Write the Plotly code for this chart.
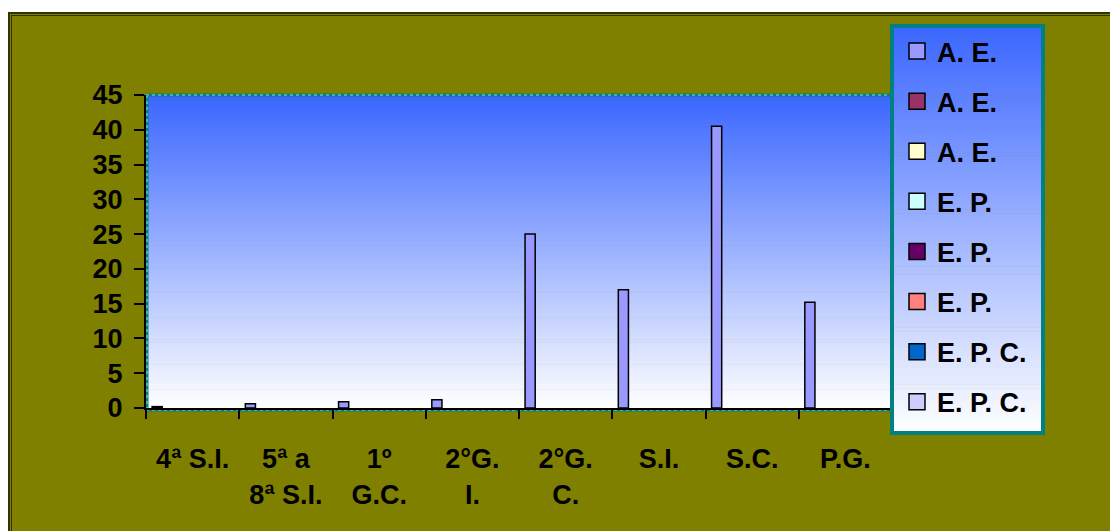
import plotly.graph_objects as go

categories = ["4ª S.I.", "5ª a<br>8ª S.I.", "1º<br>G.C.", "2°G.<br>I.", "2°G.<br>C.", "S.I.", "S.C.", "P.G."]
series_names = ["A. E.", "A. E.", "A. E.", "E. P.", "E. P.", "E. P.", "E. P. C.", "E. P. C."]
series_colors = ["#9999FF", "#993366", "#FFFFCC", "#CCFFFF", "#660066", "#FF8080", "#0066CC", "#CCCCFF"]
values_s1 = [0.2, 0.6, 0.9, 1.2, 25.0, 17.0, 40.5, 15.2]
values_empty = [None] * 8
y_ticks = [0, 5, 10, 15, 20, 25, 30, 35, 40, 45]

series_values = [values_s1] + [values_empty] * 7

# pixel geometry of the plot area
L, R, T, B = 146, 892, 95, 408
W, H = R - L, B - T

def px(x):
    return (x - L) / W

def py(y):
    return (B - y) / H

FONT = "Liberation Sans, Arial, sans-serif"

fig = go.Figure()
for i, (name, col, vals) in enumerate(zip(series_names, series_colors, series_values)):
    fig.add_trace(go.Bar(
        x=categories, y=vals, name=name, legendgroup=str(i), showlegend=False,
        marker=dict(color=col, line=dict(color="black", width=1.5)),
    ))
# legend entries with larger square swatches
for i, (name, col) in enumerate(zip(series_names, series_colors)):
    fig.add_trace(go.Scatter(
        x=[None], y=[None], mode="markers", name=name, legendgroup=str(i), showlegend=True,
        marker=dict(symbol="square", size=17, color=col, line=dict(color="black", width=1.5)),
        hoverinfo="skip",
    ))

shapes = []
# white page outside chart frame
shapes.append(dict(type="rect", xref="paper", yref="paper", x0=px(0), x1=px(1110), y0=py(0), y1=py(12),
                   fillcolor="white", line=dict(width=0), layer="below"))
shapes.append(dict(type="rect", xref="paper", yref="paper", x0=px(0), x1=px(8), y0=py(0), y1=py(531),
                   fillcolor="white", line=dict(width=0), layer="below"))
# double dark frame lines
for (x0, y0, x1, y1, w) in [(8, 13, 1110, 13, 2), (11, 15.5, 1110, 15.5, 1),
                            (9, 12, 9, 531, 2), (11.5, 15, 11.5, 531, 1)]:
    shapes.append(dict(type="line", xref="paper", yref="paper", x0=px(x0), x1=px(x1), y0=py(y0), y1=py(y1),
                       line=dict(color="#333300", width=w), layer="below"))

def grad(t):
    c0 = (58, 102, 255)
    c1 = (255, 255, 255)
    return "rgb(%d,%d,%d)" % tuple(round(a + (b - a) * t) for a, b in zip(c0, c1))

# plot-area gradient
n = 100
for k in range(n):
    y0 = T + H * k / n
    y1 = T + H * (k + 1) / n + 0.6
    shapes.append(dict(type="rect", xref="paper", yref="paper", x0=0, x1=1, y0=py(y1), y1=py(y0),
                       fillcolor=grad((k + 0.5) / n), line=dict(width=0), layer="below"))

# legend box gradient
LL, LR, LT, LB = 892, 1043, 26, 433
n2 = 100
for k in range(n2):
    y0 = LT + (LB - LT) * k / n2
    y1 = LT + (LB - LT) * (k + 1) / n2 + 0.6
    shapes.append(dict(type="rect", xref="paper", yref="paper", x0=px(LL), x1=px(LR), y0=py(y1), y1=py(y0),
                       fillcolor=grad((k + 0.5) / n2), line=dict(width=0), layer="below"))
shapes.append(dict(type="rect", xref="paper", yref="paper", x0=px(LL), x1=px(LR), y0=py(LB), y1=py(LT),
                   fillcolor="rgba(0,0,0,0)", line=dict(color="#008080", width=4), layer="above"))

# dotted teal borders of plot area
for (x0, y0, x1, y1) in [(L, T, R, T), (L + 1, T, L + 1, B), (L, B + 2, R, B + 2)]:
    shapes.append(dict(type="line", xref="paper", yref="paper", x0=px(x0), x1=px(x1), y0=py(y0), y1=py(y1),
                       line=dict(color="#008080", width=3), layer="below"))
    shapes.append(dict(type="line", xref="paper", yref="paper", x0=px(x0), x1=px(x1), y0=py(y0), y1=py(y1),
                       line=dict(color="#9fd8d8", width=1, dash="dot"), layer="below"))

fig.update_layout(
    width=1110, height=531,
    margin=dict(l=L, r=1110 - R, t=T, b=531 - B, pad=0),
    paper_bgcolor="#808000",
    plot_bgcolor="rgba(0,0,0,0)",
    barmode="group", bargap=0.13, bargroupgap=0,
    font=dict(family=FONT, size=27, color="black", weight="bold"),
    showlegend=True,
    legend=dict(x=px(897), y=py(27), xanchor="left", yanchor="top",
                bgcolor="rgba(0,0,0,0)", borderwidth=0, maxheight=500,
                traceorder="grouped", tracegroupgap=12,
                font=dict(family=FONT, size=27, color="black", weight="bold")),
    shapes=shapes,
)
fig.update_xaxes(
    type="category", categoryorder="array", categoryarray=categories,
    showline=True, linecolor="black", linewidth=2,
    ticks="outside", tickson="boundaries", ticklen=9, tickwidth=2, tickcolor="black",
    ticklabelstandoff=26, showgrid=False, zeroline=False,
    tickfont=dict(family=FONT, size=27, color="black", weight="bold"),
)
fig.update_yaxes(
    range=[0, 45], tickvals=y_ticks, showline=True, linecolor="black", linewidth=2,
    ticks="outside", ticklen=10, tickwidth=2, tickcolor="black",
    showgrid=False, zeroline=False, ticklabelstandoff=6,
    tickfont=dict(family=FONT, size=27, color="black", weight="bold"),
)

fig.write_html("out.html", config={"displayModeBar": False},
               post_script="document.body.style.margin='0';document.body.style.overflow='hidden';")
